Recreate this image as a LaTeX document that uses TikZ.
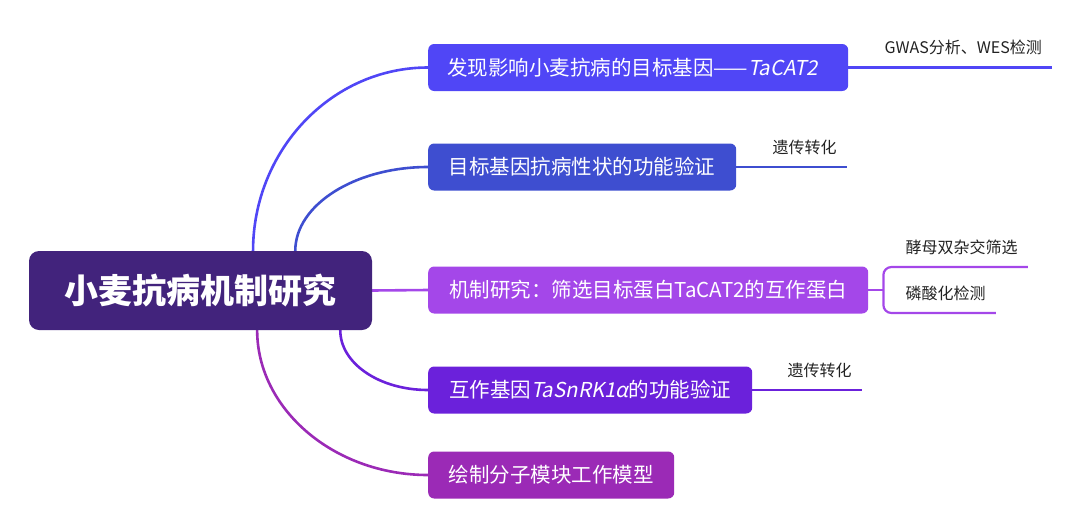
\documentclass[tikz,border=0pt]{standalone}
\usepackage{fontspec}
\setmainfont{Noto Sans CJK SC}
\newfontfamily\cjkit[FakeSlant=0.2]{Noto Sans CJK SC}
\usetikzlibrary{calc,backgrounds}
\definecolor{cRoot}{HTML}{42237C}
\definecolor{cA}{HTML}{5046F6}
\definecolor{cB}{HTML}{3E4ED0}
\definecolor{cC}{HTML}{A447E9}
\definecolor{cD}{HTML}{6B21DB}
\definecolor{cE}{HTML}{9B2AB6}
\definecolor{leafgray}{HTML}{222222}
\begin{document}
\begin{tikzpicture}[x=1pt,y=-1pt,
  box/.style={rounded corners=6pt, text=white, font=\fontsize{20.5}{24}\selectfont, minimum height=47pt, inner xsep=0pt, anchor=west},
  leaf/.style={text=leafgray, font=\fontsize{16}{19}\selectfont, inner xsep=10pt, inner ysep=2pt, anchor=west},
  conn/.style={line width=2.6pt},
  lline/.style={line width=2.2pt}]
\useasboundingbox (0,0) rectangle (1080,528);
\node[fill=cRoot, rounded corners=10pt, text=white, font=\fontsize{34}{40}\selectfont\bfseries, minimum width=343pt, minimum height=79pt] (root) at (200.5,290.5) {小麦抗病机制研究};
\node[box, fill=cA, inner xsep=19pt] (b1) at (428,67.5) {\makebox[382pt][l]{发现影响小麦抗病的目标基因——{\cjkit TaCAT2}}};
\node[box, fill=cB, minimum width=308pt] (b2) at (428,167) {目标基因抗病性状的功能验证};
\node[box, fill=cC, minimum width=440pt] (b3) at (428,290) {机制研究：筛选目标蛋白TaCAT2的互作蛋白};
\node[box, fill=cD, minimum width=324pt] (b4) at (428,390) {互作基因{\cjkit TaSnRK1α}的功能验证};
\node[box, fill=cE, minimum width=246pt] (b5) at (428,475) {绘制分子模块工作模型};
\begin{scope}[on background layer]
\draw[conn, draw=cA] ($(root.north west)!0.653!(root.north east)$) .. controls +(0,-100) and +(-97,0) .. (b1.west);
\draw[conn, draw=cB] ($(root.north west)!0.776!(root.north east)$) .. controls +(0,-46) and +(-73,0) .. (b2.west);
\draw[conn, draw=cC] (root.east) -- (b3.west);
\draw[conn, draw=cD] ($(root.south west)!0.907!(root.south east)$) .. controls +(0,33) and +(-49,0) .. (b4.west);
\draw[conn, draw=cE] ($(root.south west)!0.665!(root.south east)$) .. controls +(0,79) and +(-94,0) .. (b5.west);
\end{scope}
\node[leaf] (l1) at ($(b1.east)+(26,-20)$) {GWAS分析、WES检测};
\draw[lline, draw=cA] (b1.east) -- (b1.east -| l1.east);
\node[leaf] (l2) at ($(b2.east)+(26,-20)$) {遗传转化};
\draw[lline, draw=cB] (b2.east) -- (b2.east -| l2.east);
\coordinate (br) at ($(b3.east)+(15,0)$);
\node[leaf] (l3a) at ($(br)+(12,-43)$) {酵母双杂交筛选};
\node[leaf] (l3b) at ($(br)+(12,3)$) {磷酸化检测};
\draw[lline, draw=cC] (b3.east) -- (br);
\draw[lline, draw=cC, rounded corners=8pt] ($(l3a.east)+(0,20)$) -| (br) |- ($(l3b.east)+(0,20)$);
\node[leaf] (l4) at ($(b4.east)+(25,-20)$) {遗传转化};
\draw[lline, draw=cD] (b4.east) -- (b4.east -| l4.east);
\end{tikzpicture}
\end{document}
